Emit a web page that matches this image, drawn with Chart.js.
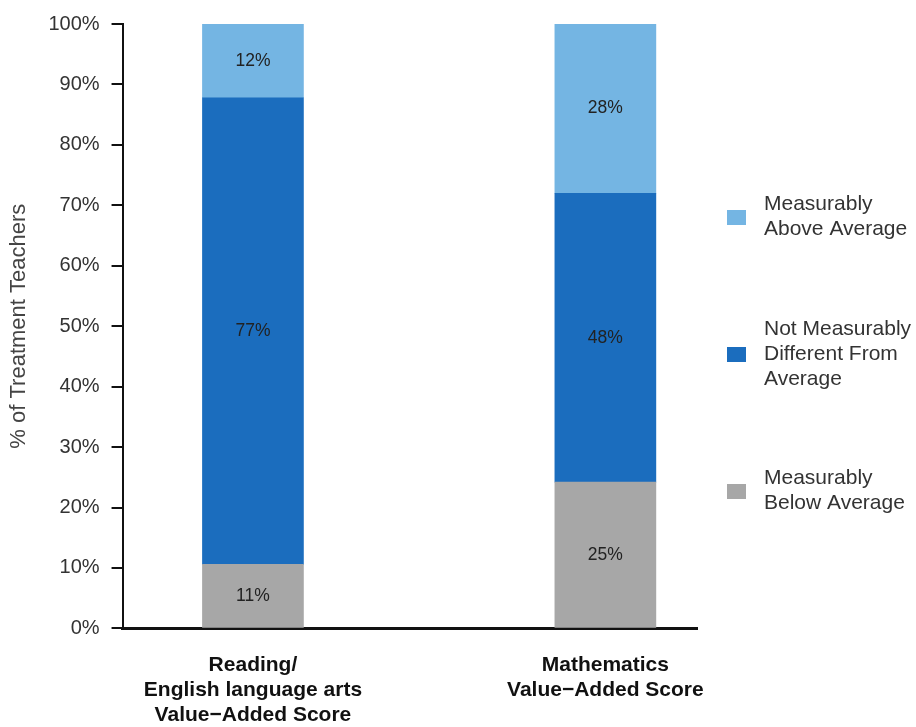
<html>
<head>
<title>Value-Added Score</title>
<script src="https://cdn.jsdelivr.net/npm/chart.js"></script>
</head>
<body style="margin:0;background:#fff">
<div style="width:916px;height:727px"><canvas id="myChart"></canvas></div>
<script>
// categories (multi-line labels)
const categories = [
  ['Reading/', 'English language arts', 'Value\u2212Added Score'],
  ['Mathematics', 'Value\u2212Added Score']
];
// series, bottom to top of each stack
const seriesNames = [
  ['Measurably', 'Below Average'],
  ['Not Measurably', 'Different From', 'Average'],
  ['Measurably', 'Above Average']
];
const belowValues = [10.6, 24.2];
const notDiffValues = [77.2, 47.8];
const aboveValues = [12.2, 28.0];
// printed numbers inside the bars
const belowLabels = ['11%', '25%'];
const notDiffLabels = ['77%', '48%'];
const aboveLabels = ['12%', '28%'];
const yTicks = [0, 10, 20, 30, 40, 50, 60, 70, 80, 90, 100];

const colors = ['#a7a7a7', '#1b6dbe', '#74b5e3'];
const FONT = "'Liberation Sans', Arial, sans-serif";

function pts(vals) {
  return vals.map(function (v, i) { return { x: i, y: v }; });
}

const allValues = [belowValues, notDiffValues, aboveValues];
const allLabels = [belowLabels, notDiffLabels, aboveLabels];

const datasets = allValues.map(function (vals, k) {
  return {
    label: seriesNames[k].join(' '),
    legendLines: seriesNames[k],
    valueLabels: allLabels[k],
    data: pts(vals),
    backgroundColor: colors[k],
    borderWidth: 0,
    barThickness: 101
  };
});

const valueLabelPlugin = {
  id: 'valueLabels',
  afterDatasetsDraw(chart) {
    const ctx = chart.ctx;
    ctx.save();
    ctx.font = '17.5px ' + FONT;
    ctx.fillStyle = '#222';
    ctx.textAlign = 'center';
    ctx.textBaseline = 'middle';
    chart.data.datasets.forEach(function (ds, k) {
      chart.getDatasetMeta(k).data.forEach(function (bar, i) {
        const top = Math.max(bar.y, chart.chartArea.top);
        ctx.fillText(ds.valueLabels[i], bar.x, (top + bar.base) / 2);
      });
    });
    ctx.restore();
  }
};

const sideLegendPlugin = {
  id: 'sideLegend',
  afterDraw(chart) {
    const ctx = chart.ctx;
    const area = chart.chartArea;
    const x = area.right + 30;
    const lineH = 25;
    ctx.save();
    ctx.font = '21px ' + FONT;
    ctx.textBaseline = 'middle';
    const order = [2, 1, 0];
    order.forEach(function (k, n) {
      const ds = chart.data.datasets[k];
      const cy = area.top + 193 + n * 137;
      ctx.fillStyle = ds.backgroundColor;
      ctx.fillRect(x, cy - 7, 19, 15);
      ctx.fillStyle = '#333';
      ctx.textAlign = 'left';
      const lines = ds.legendLines;
      const y0 = cy - (lines.length - 1) * lineH / 2;
      lines.forEach(function (t, j) {
        ctx.fillText(t, x + 37, y0 + j * lineH);
      });
    });
    ctx.restore();
  }
};

new Chart(document.getElementById('myChart'), {
  type: 'bar',
  data: { datasets: datasets },
  options: {
    responsive: true,
    maintainAspectRatio: false,
    animation: false,
    layout: { padding: { left: 6, right: 219, top: 12, bottom: -25 } },
    plugins: {
      legend: { display: false },
      tooltip: { enabled: false }
    },
    scales: {
      x: {
        type: 'linear',
        stacked: true,
        offset: false,
        min: -0.37,
        max: 1.26,
        afterBuildTicks: function (scale) {
          scale.ticks = categories.map(function (c, i) { return { value: i }; });
        },
        ticks: {
          autoSkip: false,
          maxRotation: 0,
          padding: 24,
          color: '#111',
          font: { family: FONT, size: 21, weight: 'bold', lineHeight: 1.2 },
          callback: function (v) { return categories[v]; }
        },
        grid: { display: false, drawTicks: false, offset: false },
        border: { display: true, color: '#111', width: 3 }
      },
      y: {
        stacked: true,
        min: 0,
        max: 100,
        afterBuildTicks: function (scale) {
          scale.ticks = yTicks.map(function (v) { return { value: v }; });
        },
        ticks: {
          padding: 12,
          color: '#333',
          font: { family: FONT, size: 20 },
          callback: function (v) { return v + '%'; }
        },
        grid: {
          drawOnChartArea: false,
          drawTicks: true,
          tickLength: 11,
          color: '#111',
          lineWidth: 2
        },
        border: { display: true, color: '#111', width: 2 },
        title: {
          display: true,
          text: '% of Treatment Teachers',
          color: '#444',
          padding: { top: 0, bottom: 4 },
          font: { family: FONT, size: 22 }
        }
      }
    }
  },
  plugins: [valueLabelPlugin, sideLegendPlugin]
});
</script>
</body>
</html>
